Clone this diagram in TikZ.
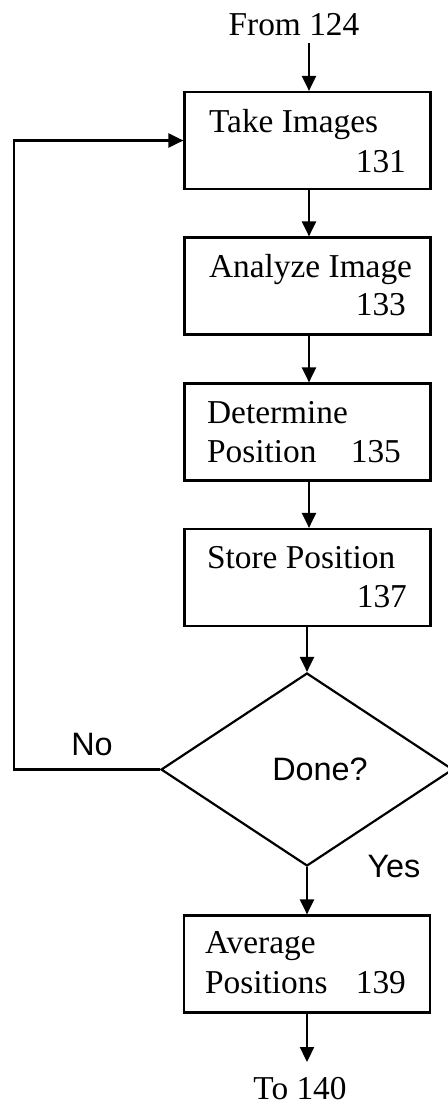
\documentclass[tikz,border=0pt]{standalone}
\usepackage{fontspec}
\setmainfont{Liberation Serif}
\newfontfamily\arialfont{Liberation Sans}
\usetikzlibrary{arrows.meta,shapes.geometric}
\begin{document}
\begin{tikzpicture}[x=1bp,y=-1bp,
  line width=2.2bp,
  boxnode/.style={draw,rectangle,minimum width=246bp,minimum height=97bp,inner sep=0pt},
  txt/.style={inner sep=0pt,font=\fontsize{33.5}{38}\selectfont},
  sanstxt/.style={inner sep=0pt,font=\arialfont\fontsize{32.5}{36}\selectfont},
  flow/.style={-{Triangle[length=15bp,width=14bp]}}]
\useasboundingbox (0,0) rectangle (448,1106);
% text terminals
\node[txt,anchor=base] (from) at (294,35) {From 124};
\node[txt,anchor=base] (to) at (300,1099) {To 140};
% boxes
\node[boxnode] (b1) at (307.5,140.5) {};
\node[boxnode] (b2) at (307.5,286) {};
\node[boxnode] (b3) at (307.5,432) {};
\node[boxnode] (b4) at (307.5,577.5) {};
\node[draw,diamond,minimum width=292bp,minimum height=193bp,inner sep=0pt] (d) at (307,769.5) {};
\node[boxnode] (b5) at (307,964) {};
% box texts
\node[txt,anchor=base west] (t1) at (208,132) {Take Images};
\node[txt,anchor=base east] (n1) at (407,172) {131};
\node[txt,anchor=base west] (t2) at (208,277) {Analyze Image};
\node[txt,anchor=base east] (n2) at (407,315) {133};
\node[txt,anchor=base west] (t3a) at (206,423) {Determine};
\node[txt,anchor=base west] (t3b) at (206,462) {Position};
\node[txt,anchor=base east] (n3) at (402,462) {135};
\node[txt,anchor=base west] (t4) at (206,568) {Store Position};
\node[txt,anchor=base east] (n4) at (408,607) {137};
\node[txt,anchor=base west] (t5a) at (204,953) {Average};
\node[txt,anchor=base west] (t5b) at (204,993) {Positions};
\node[txt,anchor=base east] (n5) at (407,993) {139};
% decision texts
\node[sanstxt,anchor=base] (done) at (320,780) {Done?};
\node[sanstxt,anchor=base] (no) at (92,755) {No};
\node[sanstxt,anchor=base] (yes) at (394,877) {Yes};
% connectors
\coordinate (fromend) at (309,43);
\coordinate (toend) at (307,1062);
\draw[flow] (fromend) -- (b1.north -| fromend);
\draw[flow] (b1.south -| fromend) -- (b2.north -| fromend);
\draw[flow] (b2.south -| fromend) -- (b3.north -| fromend);
\draw[flow] (b3.south -| fromend) -- (b4.north -| fromend);
\draw[flow] (b4.south -| d.north) -- (d.north);
\draw[flow] (d.south) -- (b5.north);
\draw[flow] (b5.south) -- (toend);
\coordinate (loopx) at (14,0);
\draw[flow] (d.west) -- (d.west -| loopx) -- (b1.west -| loopx) -- (b1.west);
\end{tikzpicture}
\end{document}
